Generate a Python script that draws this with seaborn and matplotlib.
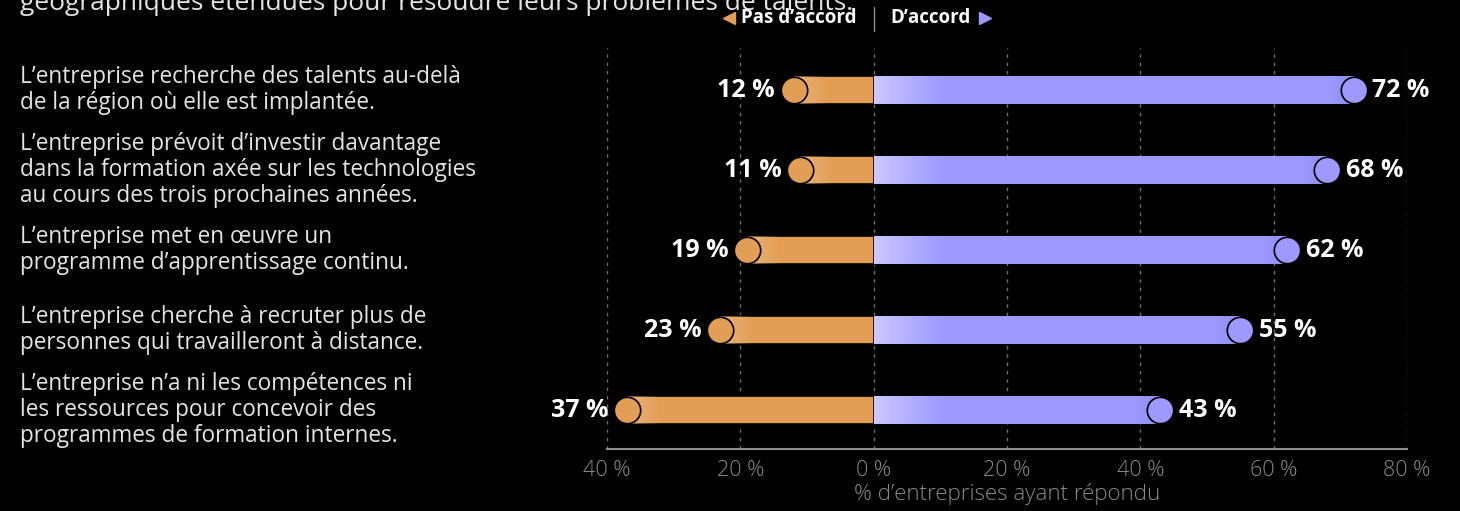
import numpy as np
import pandas as pd
import matplotlib
matplotlib.use("Agg")
import matplotlib.pyplot as plt
from matplotlib.lines import Line2D
from matplotlib.ticker import FuncFormatter
from matplotlib.transforms import blended_transform_factory
from matplotlib.colors import to_rgb
import seaborn as sns

# ---- data -------------------------------------------------------------
statements = [
    "L’entreprise recherche des talents au-delà\nde la région où elle est implantée.",
    "L’entreprise prévoit d’investir davantage\ndans la formation axée sur les technologies\nau cours des trois prochaines années.",
    "L’entreprise met en œuvre un\nprogramme d’apprentissage continu.",
    "L’entreprise cherche à recruter plus de\npersonnes qui travailleront à distance.",
    "L’entreprise n’a ni les compétences ni\nles ressources pour concevoir des\nprogrammes de formation internes.",
]
disagree = [12, 11, 19, 23, 37]
agree = [72, 68, 62, 55, 43]
x_ticks = [-40, -20, 0, 20, 40, 60, 80]
title_tail = "géographiques étendues pour résoudre leurs problèmes de talents."
legend_left = "Pas d’accord"
legend_right = "D’accord"
x_label = "% d’entreprises ayant répondu"

# ---- style ------------------------------------------------------------
ORANGE = "#E39E55"
PURPLE = "#9D99FF"
PURPLE_LIGHT = "#CDC8FF"
ORANGE_LIGHT = "#EEC296"
BG = "black"
TEXT = "#E4E4E4"
GREY = "#8A8A8A"

sns.set_theme(style="dark")
plt.rcParams["font.family"] = ["Open Sans", "DejaVu Sans"]

W, H = 1460, 511
fig = plt.figure(figsize=(W / 100, H / 100), dpi=100, facecolor=BG)
ax = fig.add_axes([607 / W, 62 / H, 800 / W, 401 / H], facecolor=BG)

df = pd.DataFrame({
    "statement": statements,
    "disagree": [-v for v in disagree],
    "agree": agree,
})

BAR_W = 0.345
sns.barplot(data=df, y="statement", x="disagree", orient="h", color=ORANGE,
            saturation=1, width=BAR_W, edgecolor="black", linewidth=1.2,
            ax=ax, zorder=2)
n_dis = len(ax.patches)
sns.barplot(data=df, y="statement", x="agree", orient="h", color=PURPLE,
            saturation=1, width=BAR_W, linewidth=0, ax=ax, zorder=2)
dis_bars = ax.patches[:n_dis]
agr_bars = ax.patches[n_dis:]

ax.set_xlim(-40, 80)
ax.set_ylim(4.4875, -0.525)


def bar_end(patch, side):
    a = patch.get_x()
    b = a + patch.get_width()
    return min(a, b) if side < 0 else max(a, b)


def overlay(patch, x0, x1, rgb, a0, a1):
    """Fade a colour across part of a bar, clipped to the bar."""
    grad = np.linspace(a0, a1, 256)
    img = np.zeros((1, 256, 4))
    img[..., :3] = rgb
    img[..., 3] = grad
    y0 = patch.get_y()
    y1 = y0 + patch.get_height()
    im = ax.imshow(img, extent=(x0, x1, y1, y0), aspect="auto",
                   interpolation="bilinear", zorder=2.5)
    im.set_clip_path(patch)


for p in agr_bars:
    end = bar_end(p, 1)
    overlay(p, 0, 10, to_rgb(PURPLE_LIGHT), 1.0, 0.0)
    overlay(p, end - 4, end, (0.45, 0.43, 0.75), 0.0, 0.3)
for p in dis_bars:
    end = bar_end(p, -1)
    overlay(p, end, end + 5, to_rgb(ORANGE_LIGHT), 0.55, 0.0)

# end-point circles and value labels
for bars, vals, color, side in ((dis_bars, disagree, ORANGE, -1),
                                (agr_bars, agree, PURPLE, 1)):
    xs = np.array([bar_end(p, side) for p in bars])
    ys = np.array([p.get_y() + p.get_height() / 2 for p in bars])
    sns.scatterplot(x=xs, y=ys, s=19 ** 2, color=color,
                    edgecolor="black", linewidth=1.2, ax=ax, zorder=4,
                    legend=False)
    for x, y, v in zip(xs, ys, vals):
        ax.annotate(f"{v} %", (x, y), xytext=(side * 13.5, 0),
                    textcoords="offset points",
                    ha="right" if side < 0 else "left", va="center",
                    color="white", fontsize=18, fontweight="bold",
                    annotation_clip=False, zorder=5)

# axes cosmetics
ax.set_xticks(x_ticks)
ax.xaxis.set_major_formatter(FuncFormatter(lambda v, _: f"{abs(int(v))} %"))
ax.tick_params(axis="x", length=0, pad=8, labelsize=15.5, labelcolor=GREY)
for t in ax.get_xticklabels():
    t.set_fontweight("light")
ax.set_yticks([])
ax.set_ylabel("")
ax.set_xlabel(x_label, color=GREY, fontsize=16, labelpad=1,
              fontweight="light")
ax.grid(axis="x", color="#6E6E6E", linestyle=(0, (2.5, 3.5)), linewidth=1,
        zorder=0)
ax.grid(axis="y", visible=False)
ax.set_axisbelow(True)
for side in ("top", "right", "left"):
    ax.spines[side].set_visible(False)
ax.spines["bottom"].set_color("#8C8C8C")
ax.spines["bottom"].set_linewidth(1.5)

# statement texts on the left
tr = blended_transform_factory(fig.transFigure, ax.transData)
for i, s in enumerate(statements):
    ax.text(20 / W, i, s, transform=tr, ha="left", va="center",
            color=TEXT, fontsize=16.3, linespacing=1.1)

# heading line, running off the top edge
fig.text(20 / W, 1 - 10 / H, title_tail, ha="left", va="baseline",
         color=TEXT, fontsize=19)

# direction legend
ly = 1 - 18 / H
fig.text(857 / W, ly, legend_left, ha="right", va="center", color="white",
         fontsize=13.5, fontweight="bold")
fig.text(890 / W, ly, legend_right, ha="left", va="center", color="white",
         fontsize=13.5, fontweight="bold")
fig.add_artist(Line2D([729 / W], [ly], marker="<", markersize=8,
                      color=ORANGE, linestyle="none",
                      transform=fig.transFigure))
fig.add_artist(Line2D([985 / W], [ly], marker=">", markersize=8,
                      color=PURPLE, linestyle="none",
                      transform=fig.transFigure))
fig.add_artist(Line2D([874 / W, 874 / W], [1 - 7 / H, 1 - 31 / H],
                      color="#8C8C8C", linewidth=1,
                      transform=fig.transFigure))

fig.savefig("out.png", dpi=100, facecolor=BG)
